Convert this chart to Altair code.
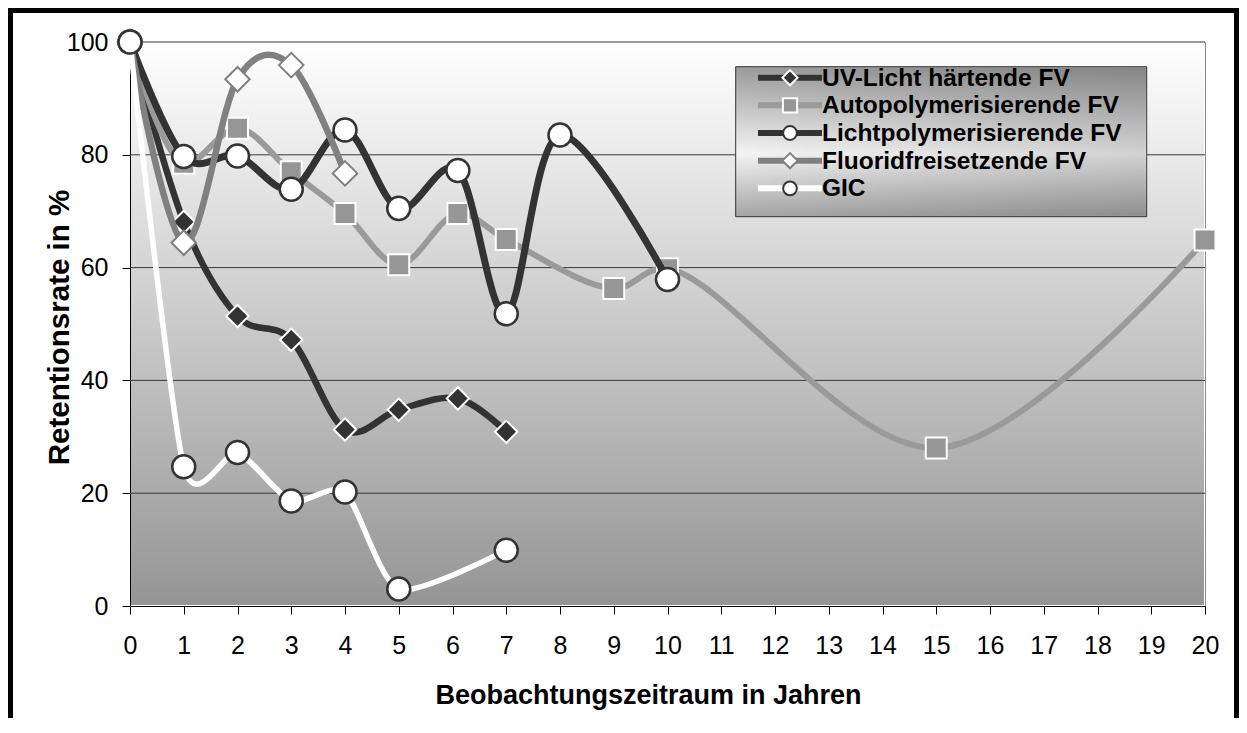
import altair as alt
import pandas as pd

# ---------------- data ----------------
series_names = [
    "UV-Licht härtende FV",
    "Autopolymerisierende FV",
    "Lichtpolymerisierende FV",
    "Fluoridfreisetzende FV",
    "GIC",
]

uv_years = [0, 1, 2, 3, 4, 5, 6.1, 7]
uv_values = [100, 68.1, 51.4, 47.2, 31.3, 34.8, 36.8, 30.9]

auto_years = [0, 1, 2, 3, 4, 5, 6.1, 7, 9, 10, 15, 20]
auto_values = [100, 78.5, 84.7, 77.0, 69.6, 60.5, 69.6, 65.0, 56.3, 59.8, 28.0, 64.9]

licht_years = [0, 1, 2, 3, 4, 5, 6.1, 7, 8, 10]
licht_values = [100, 79.7, 79.8, 73.9, 84.4, 70.5, 77.2, 51.8, 83.5, 57.9]

fluorid_years = [0, 1, 2, 3, 4]
fluorid_values = [100, 64.4, 93.4, 95.9, 76.7]

gic_years = [0, 1, 2, 3, 4, 5, 7]
gic_values = [100, 24.7, 27.2, 18.6, 20.2, 3.0, 9.9]

x_ticks = list(range(0, 21))
y_ticks = [0, 20, 40, 60, 80, 100]
grid_values = [20, 40, 60, 80, 100]

all_years = [uv_years, auto_years, licht_years, fluorid_years, gic_years]
all_values = [uv_values, auto_values, licht_values, fluorid_values, gic_values]

# ---------------- styles ----------------
styles = [
    dict(line="#333333", lw=6.5, shape="diamond", size=500, fill="#333333", stroke="#ffffff", sw=2, lsize=230, interp="cardinal", tension=0),
    dict(line="#9a9a9a", lw=6, shape="square", size=440, fill="#969696", stroke="#ffffff", sw=2, lsize=200, interp="catmull-rom", tension=None),
    dict(line="#333333", lw=7, shape="circle", size=530, fill="#ffffff", stroke="#333333", sw=2.5, lsize=190, interp="cardinal", tension=0),
    dict(line="#808080", lw=6.5, shape="diamond", size=600, fill="#ffffff", stroke="#808080", sw=2, lsize=230, interp="cardinal", tension=0),
    dict(line="#ffffff", lw=5.5, shape="circle", size=530, fill="#ffffff", stroke="#333333", sw=2.5, lsize=190, interp="cardinal", tension=0.3),
]

FONT = "Liberation Sans"
W, H = 1075, 564

x_scale = alt.Scale(domain=[0, 20], nice=False, zero=False)
y_scale = alt.Scale(domain=[0, 100], nice=False)

x_axis = alt.Axis(
    values=x_ticks, title="Beobachtungszeitraum in Jahren", grid=False,
    labelFont=FONT, labelFontSize=25, labelColor="black", labelBaseline="middle",
    labelPadding=31, tickSize=8, tickColor="black", domainColor="black",
    titleFont=FONT, titleFontSize=27, titleFontWeight="bold", titleColor="black",
    titleX=518, titleY=89, titleAlign="center", titleBaseline="middle",
    labelFlush=False, labelOverlap=False,
)
y_axis = alt.Axis(
    values=y_ticks, title="Retentionsrate in %", grid=False,
    labelFont=FONT, labelFontSize=25, labelColor="black", labelPadding=14,
    tickSize=8, tickColor="black", domainColor="black",
    titleFont=FONT, titleFontSize=29.5, titleFontWeight="bold", titleColor="black",
    titleX=-71, titleY=285, titleAlign="center", titleBaseline="middle", titleAngle=270,
    labelFlush=False, labelOverlap=False,
)


def X():
    return alt.X("year:Q", scale=x_scale, axis=x_axis)


def Y():
    return alt.Y("value:Q", scale=y_scale, axis=y_axis)


one = pd.DataFrame({"a": [0]})

bg = alt.Chart(one).mark_rect(
    fill=alt.Gradient(
        gradient="linear",
        stops=[alt.GradientStop(color="#ffffff", offset=0),
               alt.GradientStop(color="#959595", offset=1)],
        x1=0, x2=0, y1=0, y2=1,
    )
).encode(x=alt.value(1), x2=alt.value(W - 1), y=alt.value(0), y2=alt.value(H - 1))

grid = alt.Chart(pd.DataFrame({"value": grid_values})).mark_rule(
    color="#383838", strokeWidth=1
).encode(y=Y())

layers = [bg, grid]

for i, name in enumerate(series_names):
    st = styles[i]
    df = pd.DataFrame({"year": all_years[i], "value": all_values[i]})
    if st["interp"] == "cardinal":
        line_mark = alt.Chart(df).mark_line(
            interpolate="cardinal", tension=st["tension"], color=st["line"], strokeWidth=st["lw"],
            strokeJoin="round", strokeCap="round",
        )
    else:
        line_mark = alt.Chart(df).mark_line(
            interpolate="catmull-rom", color=st["line"], strokeWidth=st["lw"],
            strokeJoin="round", strokeCap="round",
        )
    line = line_mark.encode(x=X(), y=Y())
    pts = alt.Chart(df).mark_point(
        filled=True, shape=st["shape"], size=st["size"], fill=st["fill"],
        stroke=st["stroke"], strokeWidth=st["sw"], opacity=1, fillOpacity=1, strokeOpacity=1,
    ).encode(x=X(), y=Y())
    layers += [line, pts]

# ---------------- legend (manual) ----------------
LX0, LX1, LY0, LY1 = 605.7, 1016.7, 24.7, 174.7
legend_box = alt.Chart(one).mark_rect(
    fill=alt.Gradient(
        gradient="linear",
        stops=[alt.GradientStop(color="#9a9a9a", offset=0),
               alt.GradientStop(color="#f4f4f4", offset=0.58),
               alt.GradientStop(color="#a4a4a4", offset=1)],
        x1=0, x2=0, y1=0, y2=1,
    ),
    stroke="#333333", strokeWidth=1,
).encode(x=alt.value(LX0), x2=alt.value(LX1), y=alt.value(LY0), y2=alt.value(LY1))
legend_shade = alt.Chart(one).mark_rect(
    fill=alt.Gradient(
        gradient="linear",
        stops=[alt.GradientStop(color="rgba(0,0,0,0)", offset=0),
               alt.GradientStop(color="rgba(0,0,0,0.14)", offset=1)],
        x1=0, x2=1, y1=0, y2=0,
    ),
).encode(x=alt.value(LX0 + 1), x2=alt.value(LX1 - 1), y=alt.value(LY0 + 1), y2=alt.value(LY1 - 1))
layers += [legend_box, legend_shade]

for i, name in enumerate(series_names):
    st = styles[i]
    yr = 35.7 + 27.65 * i
    nd = pd.DataFrame({"name": [name]})
    lline = alt.Chart(nd).mark_rule(color=st["line"], strokeWidth=6).encode(
        x=alt.value(628), x2=alt.value(692), y=alt.value(yr))
    lpt = alt.Chart(nd).mark_point(
        filled=True, shape=st["shape"], size=st["lsize"], fill=st["fill"],
        stroke=st["stroke"], strokeWidth=2, opacity=1,
    ).encode(x=alt.value(660), y=alt.value(yr))
    ltxt = alt.Chart(nd).mark_text(
        align="left", baseline="middle", font=FONT, fontSize=24.5, fontWeight="bold", color="black",
    ).encode(x=alt.value(692), y=alt.value(yr + 1), text="name:N")
    layers += [lline, lpt, ltxt]

# ---------------- outer frame ----------------
frame_l = alt.Chart(one).mark_rule(color="black", strokeWidth=5).encode(
    x=alt.value(-119.5), y=alt.value(-34), y2=alt.value(680))
frame_t = alt.Chart(one).mark_rule(color="black", strokeWidth=5).encode(
    x=alt.value(-122), x2=alt.value(1112), y=alt.value(-31.5))
frame_r = alt.Chart(one).mark_rule(color="black", strokeWidth=5).encode(
    x=alt.value(1106.5), y=alt.value(-34), y2=alt.value(680))
layers += [frame_l, frame_t, frame_r]

chart = alt.layer(*layers).properties(
    width=W, height=H,
    padding={"left": 122, "top": 34, "right": 34, "bottom": 112},
    autosize=alt.AutoSizeParams(type="none"),
    background="white",
).configure_view(stroke="#888888", strokeWidth=1)

chart.save("out.html", embed_options={"renderer": "svg", "actions": False})
